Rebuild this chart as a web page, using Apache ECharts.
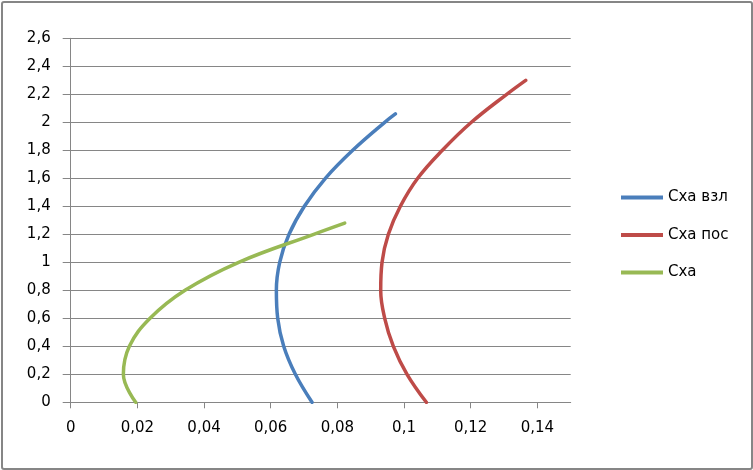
<!DOCTYPE html>
<html>
<head>
<meta charset="utf-8">
<script src="https://cdn.jsdelivr.net/npm/echarts@6/dist/echarts.min.js"></script>
<style>
  html, body { margin: 0; padding: 0; background: #fff; }
  #chart { width: 753px; height: 470px; }
</style>
</head>
<body>
<div id="chart"></div>
<script>
// [x, y] points
const vzlData = [
  [0.0724, 0], [0.0674, 0.2], [0.0639, 0.4], [0.0621, 0.6], [0.0617, 0.8],
  [0.0627, 1.0], [0.0655, 1.2], [0.0701, 1.4], [0.0764, 1.6], [0.0846, 1.8],
  [0.0942, 2.0], [0.0974, 2.06]
]
const posData = [
  [0.1067, 0], [0.1009, 0.2], [0.0968, 0.4], [0.0942, 0.6], [0.0930, 0.8],
  [0.0934, 1.0], [0.0953, 1.2], [0.0989, 1.4], [0.1041, 1.6], [0.1115, 1.8],
  [0.1202, 2.0], [0.1308, 2.2], [0.1365, 2.30]
]
const cxaData = [
  [0.0195, 0], [0.0158, 0.2], [0.0176, 0.4], [0.0238, 0.6], [0.0343, 0.8],
  [0.0504, 1.0], [0.0729, 1.2], [0.0822, 1.28]
]
const seriesNames = ['Сха взл', 'Сха пос', 'Сха']
const xTicks = [0, 0.02, 0.04, 0.06, 0.08, 0.1, 0.12, 0.14]

const chart = echarts.init(document.getElementById('chart'))
const fontFamily = 'DejaVu Sans'
const gridColor = '#868686'
const fmt = v => String(+v.toFixed(4)).replace('.', ',')

function curve(name, data) {
  return {
    name: name,
    type: 'line',
    smooth: 0.4,
    showSymbol: false,
    lineStyle: { width: 3.5, cap: 'round' },
    data: data
  }
}

chart.setOption({
  animation: false,
  color: ['#4A7EBB', '#BE4B48', '#98B954'],
  graphic: [{
    type: 'rect',
    shape: { x: 2, y: 2, width: 750, height: 467, r: 2 },
    style: { fill: 'none', stroke: gridColor, lineWidth: 2 },
    silent: true
  }],
  legend: {
    orient: 'vertical',
    left: 621,
    top: 188.5,
    padding: 0,
    icon: 'rect',
    itemWidth: 42,
    itemHeight: 4,
    itemGap: 19.5,
    textStyle: { fontFamily: fontFamily, fontSize: 15, color: '#000', lineHeight: 18 },
    data: seriesNames
  },
  grid: {
    left: 70.7,
    right: 182.3,
    top: 38.3,
    bottom: 67.7,
    containLabel: false,
    outerBoundsMode: 'none'
  },
  xAxis: {
    type: 'value',
    min: 0,
    max: 0.15,
    interval: 0.02,
    axisLine: { show: true, lineStyle: { color: gridColor, width: 1 } },
    axisTick: { show: true, length: 6, lineStyle: { color: gridColor }, customValues: xTicks },
    axisLabel: {
      margin: 18,
      fontFamily: fontFamily,
      fontSize: 15,
      color: '#000',
      customValues: xTicks,
      formatter: fmt
    },
    splitLine: { show: false }
  },
  yAxis: {
    type: 'value',
    min: 0,
    max: 2.6,
    interval: 0.2,
    axisLine: { show: true, lineStyle: { color: gridColor, width: 1 } },
    axisTick: { show: true, length: 8, lineStyle: { color: gridColor } },
    axisLabel: {
      margin: 20,
      fontFamily: fontFamily,
      fontSize: 15,
      color: '#000',
      formatter: fmt
    },
    splitLine: { show: true, lineStyle: { color: gridColor, width: 1 } }
  },
  series: [
    curve(seriesNames[0], vzlData),
    curve(seriesNames[1], posData),
    curve(seriesNames[2], cxaData)
  ]
})
</script>
</body>
</html>
